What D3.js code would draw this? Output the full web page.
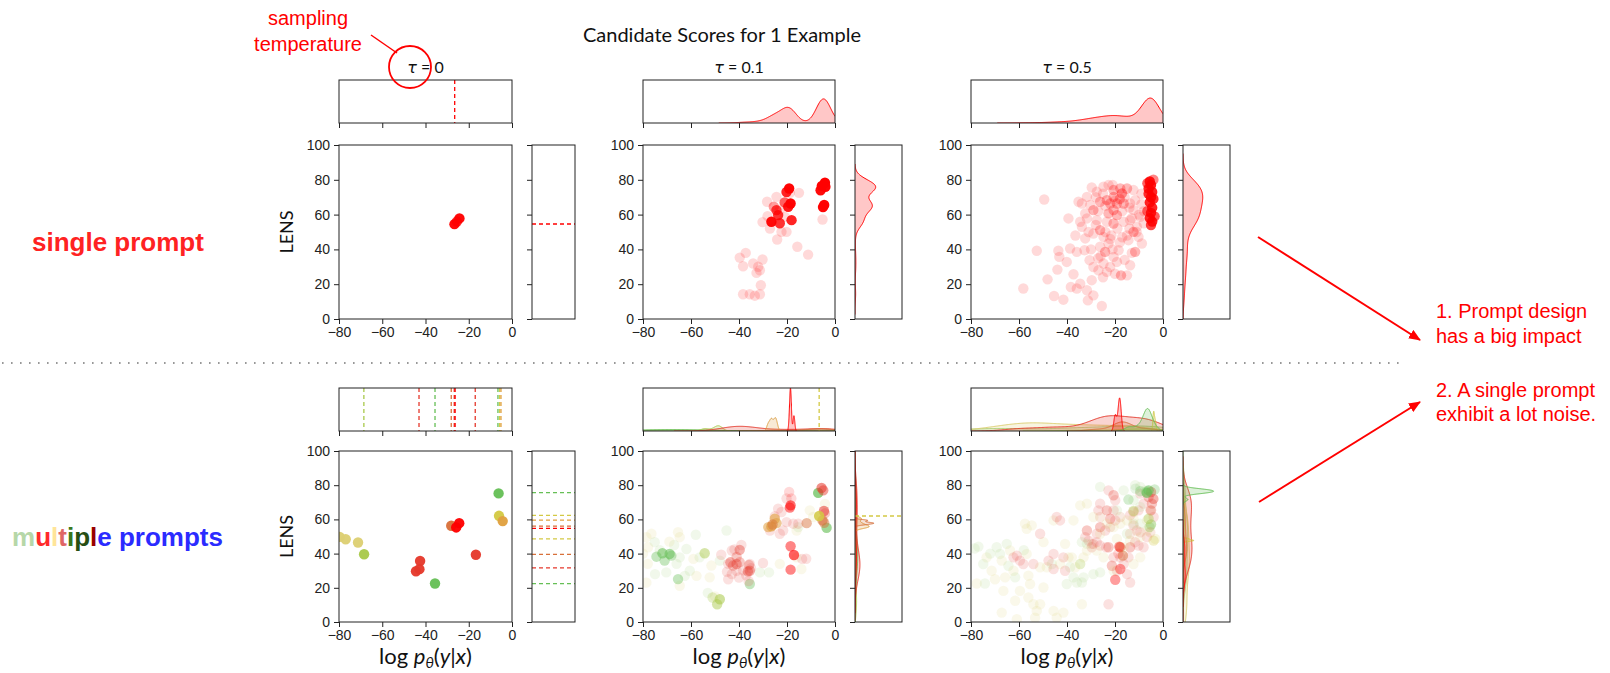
<!DOCTYPE html>
<html>
<head>
<meta charset="utf-8">
<script src="https://cdn.jsdelivr.net/npm/d3@7"></script>
<style>
  body { margin: 0; background: #fff; }
  svg { display: block; font-family: Lato, "Open Sans", sans-serif; }
</style>
</head>
<body>
<svg id="chart" width="1610" height="673"></svg>
<script>
// ---- data ----
var xTicks = [-80, -60, -40, -20, 0];
var yTicks = [0, 20, 40, 60, 80, 100];
var temps = ["0", "0.1", "0.5"];
var rowNames = ["single prompt", "multiple prompts"];
var notes = [["1. Prompt design", "has a big impact"], ["2. A single prompt", "exhibit a lot noise."]];

// prompt colours (hue levels), red -> yellow -> green
var promptColors = ["#ff0000", "#e5392c", "#d8703a", "#e0a040", "#d3c944", "#a9c94a", "#66bf56", "#ddcf72", "#9fd07a"];

// single prompt: [log p, LENS, copies]
var singleT0 = [[-26.6, 54.5, 20], [-25.5, 56, 10], [-24.3, 57.8, 20]];
var singleT0LinesX = [-26.5];
var singleT0LinesY = [54.6];

var singleT01 = [
  [-4.2, 78.3, 40], [-5.5, 76.5, 30], [-6, 74, 20], [-4, 76, 25], [-4.5, 65.5, 30], [-5, 64.3, 25],
  [-19.1, 75, 25], [-20.2, 73, 12], [-18.5, 66.4, 25], [-19.5, 64.5, 15], [-21, 67, 6], [-18.1, 56.8, 12],
  [-26.5, 55.9, 20], [-23.7, 59.7, 10], [-23, 55, 10], [-24.4, 62.6, 8], [-25.5, 64.5, 3],
  [-5.2, 57.2, 1], [-15.7, 41.5, 1], [-11.2, 37, 1], [-18.8, 72.5, 1], [-15, 72.5, 1], [-30.2, 55.7, 1],
  [-28.1, 59.1, 1], [-24.1, 45.7, 1], [-22.3, 50.1, 1], [-20.2, 50.1, 1], [-37.2, 38, 1], [-39.7, 35.3, 1],
  [-38.3, 30.3, 1], [-34.1, 31.9, 1], [-32, 30, 1], [-30.2, 34.2, 1], [-31.3, 28, 1], [-32.7, 26.5, 1],
  [-30.9, 19.4, 1], [-38.3, 14.2, 1], [-35.5, 14.2, 1], [-33.4, 13.4, 1], [-31.3, 14.2, 1], [-27.1, 52, 1],
  [-23, 62.6, 1], [-20.9, 58.7, 1], [-24.4, 70.2, 1], [-28.3, 67.4, 1]
];

var singleT05 = [
  [-5.5, 79, 14], [-5, 77, 14], [-6, 75, 12], [-4.5, 73, 12], [-5, 70, 12], [-5.5, 67, 12], [-4.5, 64, 12],
  [-5, 61, 12], [-5.5, 58, 12], [-4.5, 56, 12], [-5, 54, 8], [-6, 72, 10], [-4, 69, 10], [-6.5, 62, 6],
  [-3.5, 59, 6], [-6.5, 78, 6], [-4, 80, 4],
  [-19.2, 66.4, 2], [-17.1, 72.2, 3], [-20.6, 70.2, 2], [-22, 66.4, 2],
  [-49.5, 68.7, 1], [-39.4, 57.8, 1], [-52.6, 39.2, 1], [-58.2, 17.5, 1], [-48.1, 22.8, 1], [-45.4, 13.2, 1],
  [-41.5, 11.1, 1], [-43.6, 39.2, 1], [-43.2, 35.7, 1], [-40.1, 32.8, 1], [-38.7, 40.5, 1], [-35.9, 38.6, 1],
  [-44, 28.4, 1], [-37.3, 25.7, 1], [-38.4, 18.4, 1], [-35.9, 17.5, 1], [-34.5, 20.3, 1], [-31.7, 16.5, 1],
  [-31.3, 10.7, 1], [-29, 13.6, 1], [-25.5, 7.5, 1], [-29.7, 22.3, 1], [-29, 29.9, 1], [-30.6, 33.8, 1],
  [-32.7, 39.5, 1], [-32.4, 46.3, 1], [-33.8, 53, 1], [-31.7, 57.8, 1], [-33.8, 66.4, 1], [-29.7, 75.6, 1],
  [-31.7, 70.2, 1], [-29, 62.6, 2], [-27.6, 56.8, 1], [-26.2, 51.1, 2], [-29, 49.1, 1], [-24.8, 47.2, 1],
  [-22.7, 43.4, 1], [-26.2, 41.5, 1], [-24.1, 38.6, 2], [-24.8, 31.9, 1], [-26.9, 28, 1], [-23.4, 27.1, 1],
  [-22, 29.9, 1], [-20.6, 35.7, 1], [-18.5, 39.5, 1], [-19.2, 32.8, 1], [-17.5, 25.1, 2], [-15, 25.1, 1],
  [-13.7, 30.9, 1], [-13, 38, 1], [-11.6, 38.6, 2], [-14.4, 45.3, 1], [-12.3, 50.1, 2], [-10.9, 53, 1],
  [-13.7, 56.8, 1], [-16.4, 55.9, 1], [-20.6, 54.9, 2], [-23.4, 55.9, 1], [-22.7, 60.7, 2], [-20.6, 62.6, 2],
  [-19.2, 59.7, 2], [-16.4, 66.4, 2], [-13.7, 66.4, 1], [-11.6, 68.3, 1], [-12.3, 74.1, 1], [-15, 75, 2],
  [-17.8, 75, 2], [-20.6, 74.1, 2], [-22.7, 77, 1], [-24.8, 76, 1], [-27.6, 73.1, 1], [-26.2, 67.4, 2],
  [-23.4, 68.3, 2], [-30.3, 65.5, 1], [-32.4, 60.7, 1], [-34.5, 55.9, 1], [-35.2, 67.4, 1], [-12.3, 62.6, 1],
  [-9.5, 58.7, 1], [-10.2, 47.2, 1], [-8.8, 43.4, 1], [-21.5, 48, 1], [-27, 35, 1], [-17, 47, 1],
  [-14, 52, 1], [-25, 24, 1], [-36.5, 48, 1], [-30, 40, 1], [-21, 40, 1], [-9, 72, 1], [-8, 62, 1],
  [-28, 70, 1], [-25, 72, 1], [-21, 77, 1], [-18, 69, 2], [-16, 70, 1], [-14, 64, 1], [-10, 60, 1],
  [-8, 55, 1], [-11, 50, 1], [-15, 48, 1], [-19, 52, 1], [-24, 50, 1], [-28, 54, 1], [-31, 50, 1],
  [-27, 62, 1], [-24, 65, 1], [-20, 68, 1], [-17, 62, 1], [-13, 58, 1], [-9, 66, 1], [-22, 46, 1],
  [-18, 44, 1], [-26, 36, 1], [-20, 26, 1], [-16, 34, 1]
];

// multiple prompts: [log p, LENS, prompt colour index, copies]
var multiT0 = [
  [-6.2, 75.2, 6, 20], [-6, 62.1, 4, 20], [-4.3, 59, 3, 20], [-28.1, 56.3, 2, 20], [-25.8, 55.3, 0, 20],
  [-24.4, 57.8, 0, 20], [-16.7, 39.3, 1, 20], [-42.5, 35.7, 1, 20], [-44.4, 29.7, 1, 20], [-42.8, 30.9, 1, 20],
  [-35.6, 22.5, 6, 20], [-68.4, 39.6, 5, 20], [-71.2, 46.5, 7, 20], [-76.9, 48.4, 7, 20], [-79.7, 49.8, 7, 20]
];
var multiT0LinesX = [[-68.5, 5], [-43, 1], [-35.6, 6], [-28.1, 2], [-26.7, 1], [-26.3, 0], [-17, 1], [-6.5, 6], [-5.7, 4], [-5.1, 3]];
var multiT0LinesY = [[75.6, 6], [62.3, 4], [59.6, 3], [56.1, 2], [54.7, 0], [48.6, 4], [39.5, 2], [31.6, 1], [22.5, 6]];

var multiT01 = [
  [-78.6, 49.6, 7, 1], [-76.5, 51.6, 7, 1], [-77.9, 43.7, 7, 1], [-75.1, 46.7, 8, 1], [-78, 34, 7, 1],
  [-78.6, 23, 7, 1], [-70.3, 29, 8, 1], [-66, 34, 8, 1], [-64.7, 37.8, 8, 1], [-65.4, 52.5, 7, 1],
  [-64.7, 49.6, 7, 1], [-61.9, 42.7, 8, 1], [-60.5, 30, 8, 1], [-59, 36.9, 7, 1], [-57.7, 27, 7, 1],
  [-62.6, 27, 8, 1], [-64.7, 21.2, 7, 1], [-56.4, 37.8, 8, 1], [-52.2, 26.1, 7, 1], [-48, 35.9, 8, 1],
  [-45.2, 53.5, 8, 1], [-51.5, 33, 7, 1], [-31.3, 29, 8, 1], [-23, 34, 7, 1], [-16, 37.8, 7, 1],
  [-14, 31, 7, 1], [-9.1, 61.4, 7, 1], [-10.5, 65.3, 7, 1], [-4.2, 69, 7, 1], [-16, 53.5, 7, 1],
  [-15.3, 55.5, 8, 1], [-73, 42, 8, 1], [-67, 45, 8, 1], [-58, 51, 8, 1], [-53, 17, 8, 1], [-50, 15, 7, 1],
  [-27.5, 29, 8, 1], [-80, 40, 7, 1], [-75, 28, 8, 1], [-69, 47, 7, 1],
  [-71.9, 40.2, 6, 5], [-68.9, 39.8, 6, 5], [-68.2, 38.8, 6, 3], [-74.4, 38.2, 6, 3], [-71, 35.9, 6, 3],
  [-65.4, 25.1, 6, 3], [-35.5, 22.2, 6, 3], [-7, 75.5, 6, 8], [-3.5, 55.1, 6, 6],
  [-54.3, 40.2, 5, 4], [-48, 13.3, 5, 5], [-49.1, 10.4, 5, 4], [-51, 14.3, 5, 2],
  [-43, 41.8, 1, 1], [-41, 38, 1, 2], [-44.5, 34, 1, 1], [-42.5, 33, 1, 2], [-39.7, 35, 1, 2], [-41, 30, 1, 1],
  [-45, 29.4, 1, 1], [-38.3, 30.2, 1, 1], [-37, 27.3, 1, 1], [-35.5, 34, 1, 1], [-41.9, 42.5, 1, 1],
  [-44.5, 25, 1, 1], [-36, 24, 1, 1], [-39, 45, 1, 1], [-40, 26, 1, 1], [-43, 28, 1, 1], [-35, 31.5, 1, 1],
  [-47.4, 39.3, 1, 1], [-30, 34.5, 1, 1], [-36.3, 29.6, 1, 3], [-39.7, 42.2, 1, 3], [-43.6, 34.9, 1, 3],
  [-41, 33.9, 1, 3], [-35.5, 30, 1, 3], [-35.8, 33.3, 1, 2],
  [-23.7, 66.3, 1, 1], [-25.1, 61.8, 1, 1], [-22.3, 64.3, 1, 1], [-21.6, 53.5, 1, 1], [-20.2, 58.4, 1, 1],
  [-17.4, 57.5, 1, 1], [-27.1, 53.5, 1, 1], [-23, 51.6, 1, 1], [-15.3, 57.5, 1, 1], [-13.7, 36.9, 1, 1],
  [-20.2, 72.2, 1, 1], [-12, 37, 1, 1],
  [-5.6, 78.4, 1, 5], [-4.9, 77, 1, 4], [-4.6, 64.9, 1, 5], [-4.2, 63.5, 1, 2],
  [-26.5, 55.9, 3, 8], [-25.1, 60.4, 3, 6], [-27.8, 55.5, 3, 5], [-24.4, 57.8, 3, 5],
  [-26, 57, 2, 4], [-5.2, 59.4, 2, 6], [-4.5, 58, 2, 4], [-11.8, 57.8, 2, 4],
  [-18.5, 68.2, 0, 5], [-18.8, 66.9, 0, 4], [-17.1, 39.2, 0, 6], [-18.5, 44.3, 0, 4], [-18.5, 30.6, 0, 4],
  [-19.1, 76, 0, 1], [-18.2, 72.2, 0, 1],
  [-6.6, 62, 4, 12]
];

var multiT05 = [
  [-76.9, 44.1, 8, 1], [-77.6, 22.5, 7, 1], [-73.5, 37.8, 7, 1], [-74.9, 33.9, 8, 1], [-74.2, 22.5, 8, 1],
  [-71.4, 30, 7, 1], [-69.3, 43.7, 8, 1], [-67.9, 39.8, 8, 1], [-67.2, 35.9, 7, 1], [-65.1, 45.7, 8, 1],
  [-63.7, 41.8, 7, 1], [-64.4, 32.9, 8, 1], [-65.8, 26.1, 7, 1], [-66.5, 18.2, 7, 1], [-67.2, 5.5, 7, 1],
  [-62.3, 30, 7, 1], [-61.6, 12.4, 7, 1], [-60.9, 1.6, 7, 1], [-59.6, 18.2, 7, 1], [-61.6, 26.1, 8, 1],
  [-57.5, 57.5, 7, 1], [-56.8, 54.5, 7, 1], [-56.1, 27.1, 7, 1], [-55.4, 22.2, 7, 1], [-56.1, 14.3, 7, 1],
  [-54, 10.4, 7, 1], [-52.6, 6.5, 7, 1], [-53.3, 2.5, 7, 1], [-51.2, 10.4, 7, 1], [-49.8, 20.2, 7, 1],
  [-48.4, 32, 7, 1], [-46.3, 33.9, 8, 1], [-45.6, 6.5, 7, 1], [-44.3, 2.5, 7, 1], [-41.5, 5.5, 7, 1],
  [-40.1, 22.2, 8, 1], [-39.4, 37.8, 7, 1], [-40.8, 45.7, 7, 1], [-37.3, 26.1, 8, 1], [-35.9, 23.1, 8, 1],
  [-33.8, 23.1, 8, 1], [-36.6, 32, 7, 1], [-33.8, 10.4, 7, 1], [-38, 37.8, 7, 1], [-45.6, 59.4, 7, 1],
  [-49.8, 46.7, 7, 1], [-54.7, 56.5, 7, 1], [-56.8, 39.8, 7, 1], [-51.2, 32, 7, 1], [-42.9, 33.9, 7, 1],
  [-38.7, 32, 8, 1], [-78.5, 43, 8, 1], [-72, 40, 8, 1], [-70, 25, 7, 1], [-58, 42, 8, 1],
  [-44.3, 61.4, 1, 1], [-42.9, 59.4, 1, 1], [-51.2, 51.6, 1, 1], [-45.6, 39.8, 1, 1], [-60.9, 38.8, 1, 1],
  [-59.6, 35.9, 1, 1], [-58.2, 33.9, 1, 1], [-62.3, 37.8, 1, 1], [-54, 33.9, 1, 1], [-47.7, 35.9, 1, 1],
  [-45.6, 31, 1, 1], [-40.8, 30, 1, 1], [-41.5, 37.8, 1, 1],
  [-22.7, 77, 1, 1], [-20.6, 74.1, 1, 2], [-19.9, 71.2, 1, 1], [-26.2, 69.2, 1, 1], [-26.9, 65.3, 1, 1],
  [-23.4, 65.3, 1, 2], [-20.6, 65.3, 1, 1], [-22, 60.4, 1, 2], [-19.9, 59.4, 1, 1], [-26.2, 55.5, 1, 2],
  [-24.1, 53.5, 1, 1], [-27.6, 51.6, 1, 1], [-31.7, 53.5, 1, 2], [-31, 47.6, 1, 1], [-29, 45.7, 1, 1],
  [-32.4, 49.6, 1, 1], [-26.2, 44.7, 1, 1], [-22.7, 43.7, 1, 2], [-20.6, 37.8, 1, 1], [-21.3, 32.9, 1, 2],
  [-19.2, 30, 1, 1], [-16.4, 33.9, 1, 1], [-14.4, 37.8, 1, 1], [-13.7, 43.7, 1, 2], [-11.6, 46.7, 1, 1],
  [-10.2, 44.7, 1, 1], [-8.1, 43.7, 1, 1], [-6.7, 49.6, 1, 1], [-9.5, 52.5, 1, 1], [-12.3, 56.5, 1, 1],
  [-13.7, 62.4, 1, 1], [-10.2, 65.3, 1, 1], [-8.1, 69.2, 1, 1], [-9.5, 75.1, 1, 1], [-6, 73.1, 1, 2],
  [-4.6, 69.2, 1, 2], [-5, 65.3, 1, 2], [-3.9, 61.4, 1, 1], [-22.7, 10.4, 1, 1], [-13.7, 23.1, 1, 1],
  [-15, 28, 1, 1], [-17.8, 37.8, 1, 1], [-23.7, 43.7, 1, 1], [-27.6, 46.7, 1, 1], [-29.7, 43.7, 1, 1],
  [-5, 76, 1, 3], [-4, 72, 1, 3],
  [-26.2, 79, 8, 1], [-16.4, 77, 8, 1], [-11.6, 80, 8, 1], [-9.5, 79, 8, 1], [-7.4, 77, 8, 1],
  [-12.3, 71.2, 8, 1], [-9.5, 67.3, 8, 1], [-19.2, 65.3, 8, 1], [-12.3, 57.5, 8, 1], [-9.5, 57.5, 8, 1],
  [-15, 51.6, 8, 1], [-31.7, 45.7, 8, 1], [-33.8, 46.7, 8, 1], [-29, 28, 8, 1], [-33.1, 26.1, 8, 1],
  [-26.2, 29, 8, 1], [-5, 57, 8, 5], [-5.6, 55.5, 8, 4],
  [-23.4, 57.5, 7, 1], [-20.6, 55.5, 7, 1], [-17.8, 57.5, 7, 1], [-15, 59.4, 7, 1], [-12.3, 60.4, 7, 1],
  [-6.7, 59.4, 7, 1], [-6.7, 53.5, 7, 1], [-9.5, 49.6, 7, 1], [-13.7, 47.6, 7, 1], [-16.4, 43.7, 7, 1],
  [-19.2, 48.6, 7, 1], [-26.2, 51.6, 7, 1], [-27.6, 41.8, 7, 1], [-24.8, 37.8, 7, 1], [-31.7, 41.8, 7, 1],
  [-33.1, 37.8, 7, 1], [-29, 61.4, 7, 1], [-31.7, 69.2, 7, 1], [-34.5, 68.2, 7, 1], [-37.3, 59.4, 7, 1],
  [-20.6, 30, 7, 1], [-12.3, 33.9, 7, 1], [-9.5, 37.8, 7, 1],
  [-3.9, 47.6, 4, 2], [-3.2, 48.6, 4, 1], [-6, 60.4, 5, 3], [-12.3, 64.9, 5, 3], [-34.5, 33.9, 5, 2],
  [-26.2, 61.4, 2, 1], [-17.8, 61.4, 2, 1], [-12.3, 64.3, 2, 1], [-5.3, 65.3, 2, 1], [-22, 55.5, 2, 1],
  [-10.9, 53.5, 2, 1], [-5.3, 52.5, 2, 1], [-29.7, 45.7, 2, 1], [-13.7, 51.6, 2, 1],
  [-17.8, 43.7, 2, 4], [-16.7, 38.8, 2, 4],
  [-18.2, 44.1, 0, 3], [-17.8, 31, 0, 3], [-19.9, 24.7, 0, 3], [-18.6, 40, 0, 1],
  [-6, 77, 6, 5], [-6.7, 75.5, 6, 5], [-14.4, 71.6, 6, 2], [-7, 76, 6, 2], [-3.5, 77.5, 6, 2],
  [-9.5, 76.5, 6, 2], [-11.5, 78, 6, 1]
];

// ---- layout ----
var svg = d3.select("#chart");
var alphaPt = 0.15;
var cols = [{x: 339, w: 173, mw: 43}, {x: 643, w: 192, mw: 47}, {x: 971, w: 192, mw: 47}];
var rows = [{my: 80, mh: 43, y: 145, h: 174}, {my: 388, mh: 43, y: 451, h: 171}];
var topFrac = [[0, 0.56, 0.58], [0, 1.0, 0.77]];
var rightFrac = [[0, 0.44, 0.42], [0, 0.4, 0.65]];

var panels = [
  {row: 0, col: 0, pts: singleT0.map(d => [d[0], d[1], 0, d[2]]),
   lx: singleT0LinesX.map(v => [v, 0]), ly: singleT0LinesY.map(v => [v, 0])},
  {row: 0, col: 1, pts: singleT01.map(d => [d[0], d[1], 0, d[2]])},
  {row: 0, col: 2, pts: singleT05.map(d => [d[0], d[1], 0, d[2]])},
  {row: 1, col: 0, pts: multiT0, lx: multiT0LinesX, ly: multiT0LinesY},
  {row: 1, col: 1, pts: multiT01},
  {row: 1, col: 2, pts: multiT05}
];

var defs = svg.append("defs");
var clipId = 0;
function clipRect(x, y, w, h) {
  var id = "clip" + (clipId++);
  defs.append("clipPath").attr("id", id).append("rect")
    .attr("x", x).attr("y", y).attr("width", w).attr("height", h);
  return "url(#" + id + ")";
}

// kde per prompt colour, scaled by share of all samples (common norm)
function marginalGroups(pts, key, lo, hi) {
  var N = d3.sum(pts, d => d[3]);
  return d3.groups(pts, d => d[2]).map(function([c, g]) {
    var n = d3.sum(g, d => d[3]);
    var mean = d3.sum(g, d => d[key] * d[3]) / n;
    var sd = Math.sqrt(d3.sum(g, d => d[3] * (d[key] - mean) ** 2) / Math.max(n - 1, 1));
    if (sd < 0.05) return {c: c, flat: true, at: mean};
    var h = sd * Math.pow(n, -0.2);
    var a = Math.max(lo, d3.min(g, d => d[key]) - 3 * h);
    var b = Math.min(hi, d3.max(g, d => d[key]) + 3 * h);
    var curve = d3.range(241).map(function(i) {
      var t = a + (b - a) * i / 240;
      var dens = d3.sum(g, d => d[3] * Math.exp(-0.5 * ((t - d[key]) / h) ** 2)) / (n * h * Math.sqrt(2 * Math.PI));
      return [t, dens * n / N];
    });
    return {c: c, flat: false, curve: curve};
  });
}

function styleAxis(g) {
  g.select(".domain").remove();
  g.selectAll(".tick line").attr("stroke", "#222");
  g.selectAll(".tick text").attr("fill", "#222").style("font-size", "14px");
}

function drawPanel(p) {
  var c = cols[p.col], r = rows[p.row];
  var x = d3.scaleLinear().domain([xTicks[0], xTicks[xTicks.length - 1]]).range([c.x, c.x + c.w]);
  var y = d3.scaleLinear().domain([yTicks[0], yTicks[yTicks.length - 1]]).range([r.y + r.h, r.y]);
  var rx = c.x + c.w + 20;

  // joint scatter
  svg.append("g").attr("clip-path", clipRect(c.x, r.y, c.w, r.h))
    .selectAll("circle").data(p.pts).enter().append("circle")
      .attr("cx", d => x(d[0]))
      .attr("cy", d => y(d[1]))
      .attr("r", 5.2)
      .attr("fill", d => promptColors[d[2]])
      .attr("fill-opacity", d => 1 - Math.pow(1 - alphaPt, d[3]));

  svg.append("g").attr("transform", `translate(0, ${r.y + r.h})`)
    .call(d3.axisBottom(x).tickValues(xTicks).tickSize(5).tickPadding(3)).call(styleAxis);
  svg.append("g").attr("transform", `translate(${c.x}, 0)`)
    .call(d3.axisLeft(y).tickValues(yTicks).tickSize(5).tickPadding(4)).call(styleAxis);

  // marginal boxes
  var topG = svg.append("g");
  var topClip = topG.append("g").attr("clip-path", clipRect(c.x, r.my, c.w, r.mh));
  var rightG = svg.append("g");
  var rightClip = rightG.append("g").attr("clip-path", clipRect(rx, r.y, c.mw, r.h));

  var lx = p.lx || [], ly = p.ly || [];
  if (!p.lx) {
    var gx = marginalGroups(p.pts, 0, xTicks[0], xTicks[xTicks.length - 1]);
    var gy = marginalGroups(p.pts, 1, yTicks[0], yTicks[yTicks.length - 1]);
    var mx = d3.max(gx.filter(g => !g.flat), g => d3.max(g.curve, d => d[1]));
    var my = d3.max(gy.filter(g => !g.flat), g => d3.max(g.curve, d => d[1]));
    var dy = d3.scaleLinear().domain([0, mx / topFrac[p.row][p.col]]).range([r.my + r.mh, r.my]);
    var dx = d3.scaleLinear().domain([0, my / rightFrac[p.row][p.col]]).range([rx, rx + c.mw]);
    gx.forEach(function(g) {
      if (g.flat) { lx.push([g.at, g.c]); return; }
      topClip.append("path").datum(g.curve)
        .attr("d", d3.area().x(d => x(d[0])).y0(dy(0)).y1(d => dy(d[1])))
        .attr("fill", promptColors[g.c]).attr("fill-opacity", 0.22);
      topClip.append("path").datum(g.curve)
        .attr("d", d3.line().x(d => x(d[0])).y(d => dy(d[1])))
        .attr("fill", "none").attr("stroke", promptColors[g.c]).attr("stroke-width", 1);
    });
    gy.forEach(function(g) {
      if (g.flat) { ly.push([g.at, g.c]); return; }
      rightClip.append("path").datum(g.curve)
        .attr("d", d3.area().y(d => y(d[0])).x0(dx(0)).x1(d => dx(d[1])))
        .attr("fill", promptColors[g.c]).attr("fill-opacity", 0.22);
      rightClip.append("path").datum(g.curve)
        .attr("d", d3.line().y(d => y(d[0])).x(d => dx(d[1])))
        .attr("fill", "none").attr("stroke", promptColors[g.c]).attr("stroke-width", 1);
    });
  }
  topClip.selectAll("line.v").data(lx).enter().append("line")
    .attr("x1", d => x(d[0])).attr("x2", d => x(d[0]))
    .attr("y1", r.my).attr("y2", r.my + r.mh)
    .attr("stroke", d => promptColors[d[1]]).attr("stroke-width", 1.3).attr("stroke-dasharray", "4,3");
  rightClip.selectAll("line.h").data(ly).enter().append("line")
    .attr("y1", d => y(d[0])).attr("y2", d => y(d[0]))
    .attr("x1", rx).attr("x2", rx + c.mw)
    .attr("stroke", d => promptColors[d[1]]).attr("stroke-width", 1.3).attr("stroke-dasharray", "4,3");

  topG.append("g").attr("transform", `translate(0, ${r.my + r.mh})`)
    .call(d3.axisBottom(x).tickValues(xTicks).tickSize(5).tickFormat("")).call(styleAxis);
  rightG.append("g").attr("transform", `translate(${rx}, 0)`)
    .call(d3.axisLeft(y).tickValues(yTicks).tickSize(5).tickFormat("")).call(styleAxis);

  [[c.x, r.y, c.w, r.h], [c.x, r.my, c.w, r.mh], [rx, r.y, c.mw, r.h]].forEach(function(b) {
    svg.append("rect").attr("x", b[0]).attr("y", b[1]).attr("width", b[2]).attr("height", b[3])
      .attr("fill", "none").attr("stroke", "#222").attr("stroke-width", 1);
  });

  if (p.col === 0) {
    svg.append("text")
      .attr("transform", `translate(293, ${r.y + r.h / 2}) rotate(-90)`)
      .attr("text-anchor", "middle").style("font-size", "18px").attr("fill", "#111")
      .text("LENS");
  }
  if (p.row === 0) {
    var t = svg.append("text").attr("x", c.x + c.w / 2).attr("y", 73)
      .attr("text-anchor", "middle").style("font-size", "16px").attr("fill", "#111");
    t.append("tspan").attr("font-style", "italic").style("font-family", "'DejaVu Sans', sans-serif").text("τ");
    t.append("tspan").text(" = " + temps[p.col]);
  }
  if (p.row === 1) {
    var lab = svg.append("text").attr("x", c.x + c.w / 2).attr("y", 664)
      .attr("text-anchor", "middle").style("font-size", "22px").attr("fill", "#111");
    lab.append("tspan").text("log ");
    lab.append("tspan").attr("font-style", "italic").text("p");
    lab.append("tspan").attr("font-style", "italic").attr("dy", 4).style("font-size", "15px").text("θ");
    lab.append("tspan").attr("dy", -4).text("(");
    lab.append("tspan").attr("font-style", "italic").text("y");
    lab.append("tspan").text("|");
    lab.append("tspan").attr("font-style", "italic").text("x");
    lab.append("tspan").text(")");
  }
}

panels.forEach(drawPanel);

// ---- titles and annotations ----
svg.append("text").attr("x", 722).attr("y", 42).attr("text-anchor", "middle")
  .style("font-size", "20px").attr("fill", "#111").text("Candidate Scores for 1 Example");

var red = "#ff0000";
var ann = svg.append("g").style("font-family", "'Liberation Sans', Arial, sans-serif");
ann.append("text").attr("x", 308).attr("y", 25).attr("text-anchor", "middle")
  .style("font-size", "20px").attr("fill", red).text("sampling");
ann.append("text").attr("x", 308).attr("y", 51).attr("text-anchor", "middle")
  .style("font-size", "20px").attr("fill", red).text("temperature");
ann.append("line").attr("x1", 371).attr("y1", 35).attr("x2", 397).attr("y2", 53)
  .attr("stroke", red).attr("stroke-width", 1.5);
ann.append("circle").attr("cx", 410).attr("cy", 67).attr("r", 21)
  .attr("fill", "none").attr("stroke", red).attr("stroke-width", 1.8);

// separator
svg.append("line").attr("x1", 2).attr("x2", 1402).attr("y1", 363).attr("y2", 363)
  .attr("stroke", "#777").attr("stroke-width", 1.6).attr("stroke-dasharray", "1.6,7.4");

// row names
ann.append("text").attr("x", 32).attr("y", 251).style("font-size", "26px").style("font-weight", "bold")
  .attr("fill", "#ff2222").text(rowNames[0]);
var multiColors = ["#b6d7a8", "#ff2a2a", "#ffe599", "#e06666", "#38761d", "#274e13", "#990000", "#2b2bff"];
var mt = ann.append("text").attr("x", 12).attr("y", 546).style("font-size", "26px").style("font-weight", "bold");
"multiple".split("").forEach(function(ch, i) {
  mt.append("tspan").attr("fill", multiColors[i]).text(ch);
});
mt.append("tspan").attr("fill", "#2b2bff").text(rowNames[1].slice(8));

// right notes with arrows
defs.append("marker").attr("id", "arrow").attr("viewBox", "0 0 12 10")
  .attr("refX", 11).attr("refY", 5).attr("markerWidth", 12).attr("markerHeight", 10)
  .attr("markerUnits", "userSpaceOnUse").attr("orient", "auto")
  .append("path").attr("d", "M0,0 L12,5 L0,10 z").attr("fill", red);
ann.append("line").attr("x1", 1258).attr("y1", 237).attr("x2", 1420).attr("y2", 340)
  .attr("stroke", red).attr("stroke-width", 2).attr("marker-end", "url(#arrow)");
ann.append("line").attr("x1", 1259).attr("y1", 502).attr("x2", 1420).attr("y2", 402)
  .attr("stroke", red).attr("stroke-width", 2).attr("marker-end", "url(#arrow)");
var noteY = [[318, 343], [397, 421]];
notes.forEach(function(lines, i) {
  lines.forEach(function(s, j) {
    ann.append("text").attr("x", 1436).attr("y", noteY[i][j]).style("font-size", "20px")
      .attr("fill", red).text(s);
  });
});
</script>
</body>
</html>
